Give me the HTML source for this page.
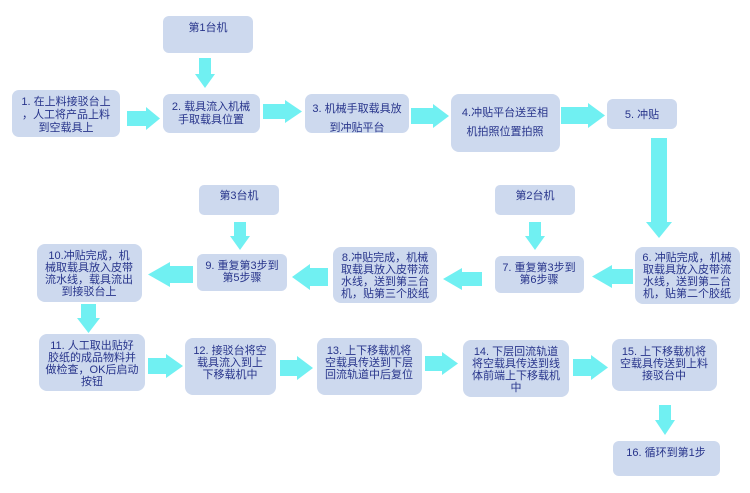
<!DOCTYPE html>
<html><head><meta charset="utf-8"><style>
html,body{margin:0;padding:0;background:#fff;}
svg{display:block;}
text{font-family:"Liberation Sans","Noto Sans CJK SC",sans-serif;font-size:11px;fill:#27348b;text-anchor:middle;}
rect{fill:#cdd9ee;}
polygon{fill:#70f0f2;}
</style></head><body>
<svg width="750" height="493" viewBox="0 0 750 493" xmlns="http://www.w3.org/2000/svg">
<rect x="163" y="16" width="90" height="37" rx="6"/>
<rect x="12" y="90" width="108" height="47" rx="7"/>
<rect x="163" y="94" width="97" height="39" rx="7"/>
<rect x="305" y="94" width="104" height="39" rx="7"/>
<rect x="451" y="94" width="109" height="58" rx="8"/>
<rect x="607" y="99" width="70" height="30" rx="6"/>
<rect x="199" y="185" width="80" height="30" rx="5"/>
<rect x="495" y="185" width="80" height="30" rx="5"/>
<rect x="37" y="244" width="105" height="58" rx="8"/>
<rect x="197" y="254" width="90" height="37" rx="6"/>
<rect x="333" y="247" width="104" height="56" rx="8"/>
<rect x="495" y="256" width="89" height="37" rx="6"/>
<rect x="635" y="247" width="105" height="57" rx="8"/>
<rect x="39" y="334" width="106" height="57" rx="8"/>
<rect x="185" y="338" width="91" height="57" rx="8"/>
<rect x="317" y="338" width="105" height="57" rx="8"/>
<rect x="463" y="340" width="106" height="57" rx="8"/>
<rect x="612" y="339" width="105" height="52" rx="8"/>
<rect x="613" y="441" width="107" height="35" rx="6"/>

<polygon points="127,111 146,111 146,107 160,118.5 146,130 146,126 127,126"/>
<polygon points="263,104 285,104 285,100 302,111.5 285,123 285,119 263,119"/>
<polygon points="411,108 433,108 433,104 449,116 433,128 433,124 411,124"/>
<polygon points="561,107 588,107 588,103 605,115.5 588,128 588,124 561,124"/>
<polygon points="148,358 166,358 166,354 183,366 166,378 166,374 148,374"/>
<polygon points="280,360 297,360 297,356 313,368 297,380 297,376 280,376"/>
<polygon points="425,356 442,356 442,352 458,363.5 442,375 442,371 425,371"/>
<polygon points="573,359 591,359 591,355 608,367.5 591,380 591,376 573,376"/>
<polygon points="328,268 310,268 310,264 292,277 310,290 310,286 328,286"/>
<polygon points="193,266 170,266 170,262 148,274.5 170,287 170,283 193,283"/>
<polygon points="482,272 462,272 462,268 443,279 462,290 462,286 482,286"/>
<polygon points="633,269 612,269 612,265 592,276.5 612,288 612,284 633,284"/>
<polygon points="199,58 211,58 211,74 215,74 205,88 195,74 199,74"/>
<polygon points="234,222 246,222 246,236 250,236 240,250 230,236 234,236"/>
<polygon points="529,222 541,222 541,236 545,236 535,250 525,236 529,236"/>
<polygon points="81,304 96,304 96,318 100,318 88.5,333 77,318 81,318"/>
<polygon points="651,138 667,138 667,222 672,222 659,238 646,222 651,222"/>
<polygon points="659,405 671,405 671,420 675,420 665,435 655,420 659,420"/>

<text x="208" y="31">第1台机</text>
<text x="66" y="105">1. 在上料接驳台上</text>
<text x="66" y="118">，人工将产品上料</text>
<text x="66" y="131">到空载具上</text>
<text x="211" y="110">2. 载具流入机械</text>
<text x="211" y="123">手取载具位置</text>
<text x="357" y="112">3. 机械手取载具放</text>
<text x="357" y="131">到冲贴平台</text>
<text x="505" y="116">4.冲贴平台送至相</text>
<text x="505" y="135">机拍照位置拍照</text>
<text x="642" y="118">5. 冲贴</text>
<text x="239" y="199">第3台机</text>
<text x="535" y="199">第2台机</text>
<text x="89" y="259">10.冲贴完成，机</text>
<text x="89" y="271">械取载具放入皮带</text>
<text x="89" y="283">流水线，载具流出</text>
<text x="89" y="295">到接驳台上</text>
<text x="242" y="269">9. 重复第3步到</text>
<text x="242" y="281">第5步骤</text>
<text x="385" y="261">8.冲贴完成，机械</text>
<text x="385" y="273">取载具放入皮带流</text>
<text x="385" y="285">水线，送到第三台</text>
<text x="385" y="297">机，贴第三个胶纸</text>
<text x="539" y="271">7. 重复第3步到</text>
<text x="539" y="283">第6步骤</text>
<text x="687" y="261">6. 冲贴完成，机械</text>
<text x="687" y="273">取载具放入皮带流</text>
<text x="687" y="285">水线，送到第二台</text>
<text x="687" y="297">机，贴第二个胶纸</text>
<text x="92" y="349">11. 人工取出贴好</text>
<text x="92" y="361">胶纸的成品物料并</text>
<text x="92" y="373">做检查，OK后启动</text>
<text x="92" y="385">按钮</text>
<text x="230" y="354">12. 接驳台将空</text>
<text x="230" y="366">载具流入到上</text>
<text x="230" y="378">下移载机中</text>
<text x="369" y="354">13. 上下移载机将</text>
<text x="369" y="366">空载具传送到下层</text>
<text x="369" y="378">回流轨道中后复位</text>
<text x="516" y="355">14. 下层回流轨道</text>
<text x="516" y="367">将空载具传送到线</text>
<text x="516" y="379">体前端上下移载机</text>
<text x="516" y="391">中</text>
<text x="664" y="355">15. 上下移载机将</text>
<text x="664" y="367">空载具传送到上料</text>
<text x="664" y="379">接驳台中</text>
<text x="666" y="456">16. 循环到第1步</text>
</svg>
</body></html>
